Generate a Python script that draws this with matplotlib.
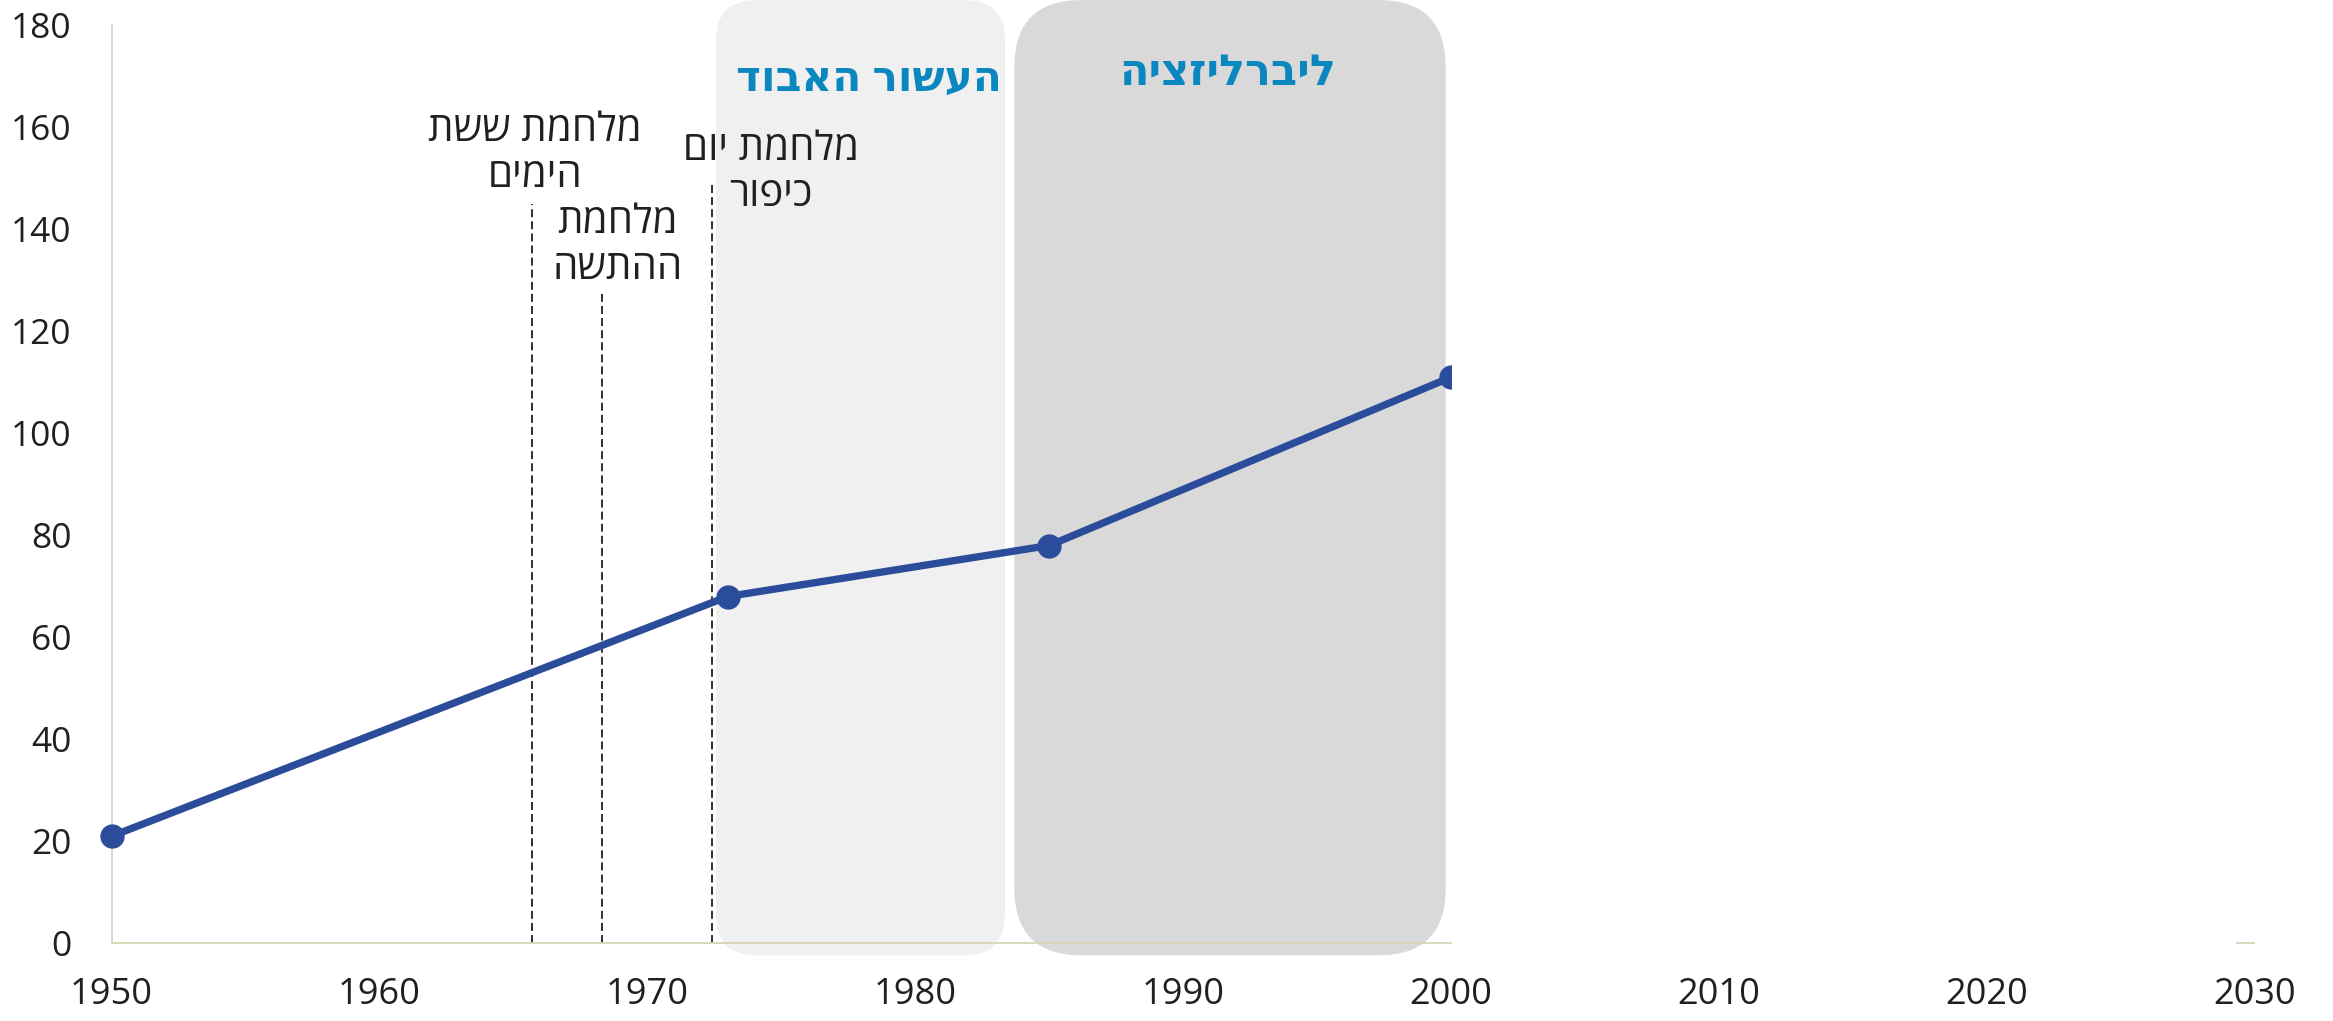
import numpy as np
import matplotlib.pyplot as plt
from matplotlib.patches import FancyBboxPatch, Rectangle

plt.rcParams['font.family'] = ['Open Sans', 'DejaVu Sans']

# data
years = [1950, 1973, 1985, 2000]
values = [21, 68, 78, 111]

event_x = [1965.7, 1968.3, 1972.4]
event_top = [145, 128, 149]
event_labels = ['מלחמת ששת\nהימים', 'מלחמת\nההתשה', 'מלחמת יום\nכיפור']
event_label_x = [1965.8, 1968.9, 1974.6]
event_label_y = [154.8, 136.8, 151.1]

period_start = [1972.56, 1983.7]
period_end = [1983.35, 1999.8]
period_labels = ['העשור האבוד', 'ליברליזציה']
period_label_y = [169.3, 170.5]
period_colors = ['#f0f0f0', '#d9d9d9']
period_radius = [1.5, 2.5]

x_ticks = np.arange(1950, 2031, 10)
y_ticks = np.arange(0, 181, 20)

TXT = '#231f20'
AXC = '#d9d4b5'
BLUE = '#2b4c9b'
TITLE_BLUE = '#0b87c0'


def rtl(s):
    # matplotlib has no bidi support, so put hebrew lines in visual order
    return '\n'.join(line[::-1] for line in s.split('\n'))


fig = plt.figure(figsize=(23.33, 10.21), dpi=100)
ax = fig.add_axes([0.04783, 0.0761, 0.9186, 0.8991])
ax.set_xlim(1950, 2030)
ax.set_ylim(0, 180)

# aspect so the rounded corners come out circular
p0 = ax.transData.transform((0, 0))
p1 = ax.transData.transform((1, 1))
aspect = (p1[0] - p0[0]) / (p1[1] - p0[1])

for x0, x1, c, r in zip(period_start, period_end, period_colors, period_radius):
    box = FancyBboxPatch((x0, -2.35), x1 - x0, 187.3,
                         boxstyle=f'round,pad=0,rounding_size={r}',
                         mutation_aspect=aspect, fc=c, ec='none',
                         clip_on=False, zorder=0)
    ax.add_patch(box)

ax.text((period_start[0] + period_end[0]) / 2 + 0.3, period_label_y[0], rtl(period_labels[0]),
        ha='center', va='center', fontsize=30.5, fontweight='bold', color=TITLE_BLUE)
ax.text((period_start[1] + period_end[1]) / 2 - 0.1, period_label_y[1], rtl(period_labels[1]),
        ha='center', va='center', fontsize=31, fontweight='bold', color=TITLE_BLUE)

ax.vlines(event_x, 0, event_top, colors=TXT, linewidth=1.3,
          linestyles=(0, (4.4, 2.3)), zorder=2)
for x, y, lab in zip(event_label_x, event_label_y, event_labels):
    ax.text(x, y, rtl(lab), ha='center', va='center', fontsize=29,
            color=TXT, linespacing=1.18)

line, = ax.plot(years, values, color=BLUE, linewidth=5.3, marker='o',
                markersize=16.5, zorder=3)
clip = Rectangle((1940, -20), max(years) - 1940, 220, transform=ax.transData)
line.set_clip_path(clip)

for s in ['top', 'right']:
    ax.spines[s].set_visible(False)
ax.spines['left'].set_color(AXC)
ax.spines['bottom'].set_color(AXC)
ax.spines['left'].set_linewidth(1.3)
ax.spines['bottom'].set_linewidth(1.3)
ax.spines['bottom'].set_bounds(1950, 2000)
ax.hlines(0, 2029.3, 2030, colors=AXC, linewidth=1.3, clip_on=False)

ax.set_xticks(x_ticks)
ax.set_yticks(y_ticks)
ax.tick_params(axis='x', length=0, pad=24, labelsize=26, labelcolor=TXT)
ax.tick_params(axis='y', length=0, pad=29, labelsize=25.5, labelcolor=TXT)

fig.savefig('out.png', dpi=100)
